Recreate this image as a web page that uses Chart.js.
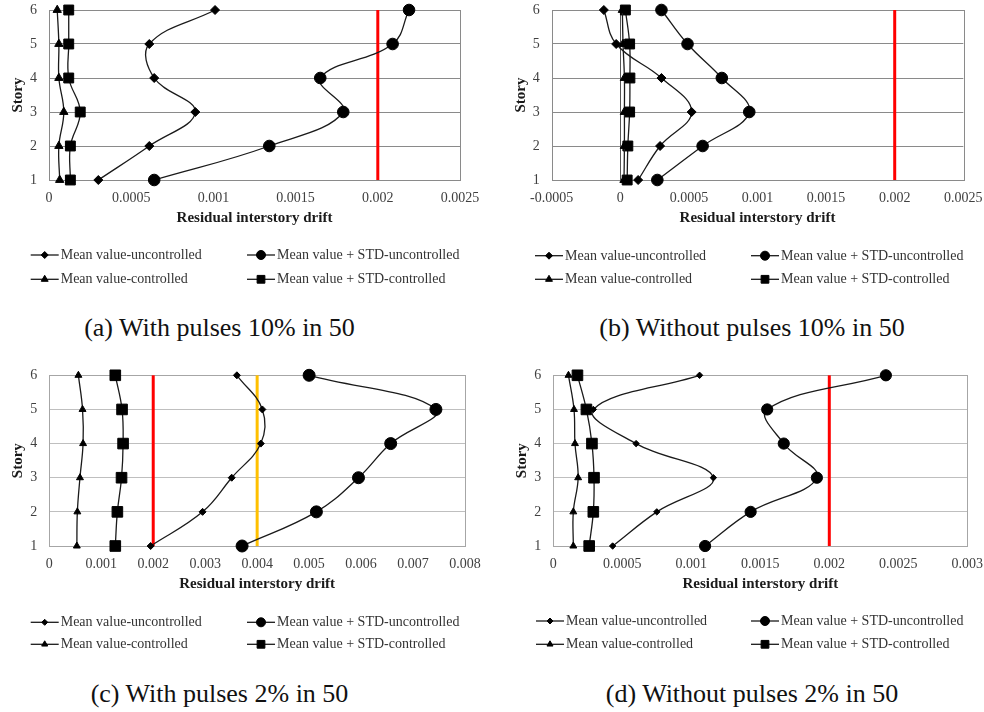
<!DOCTYPE html>
<html><head><meta charset="utf-8">
<script src="https://cdn.jsdelivr.net/npm/chart.js@4/dist/chart.umd.min.js"></script>
<style>
html,body{margin:0;padding:0;background:#fff;}
body{width:984px;height:712px;position:relative;overflow:hidden;font-family:'Liberation Serif','Times New Roman',serif;}
.pc{position:absolute;}
.pc canvas{display:block;}
.cap{position:absolute;font-size:26px;line-height:30px;color:#111;text-align:center;white-space:nowrap;width:400px;}
</style></head><body>
<div class="pc" style="left:0px;top:0px;"><canvas id="ca" width="492" height="300"></canvas></div>
<div class="pc" style="left:492px;top:0px;"><canvas id="cb" width="492" height="300"></canvas></div>
<div class="pc" style="left:0px;top:356px;"><canvas id="cc" width="492" height="310"></canvas></div>
<div class="pc" style="left:492px;top:356px;"><canvas id="cd" width="492" height="310"></canvas></div>
<div class="cap" style="left:19.5px;top:313px;">(a) With pulses 10% in 50</div>
<div class="cap" style="left:552px;top:313px;">(b) Without pulses 10% in 50</div>
<div class="cap" style="left:19.5px;top:678.5px;">(c) With pulses 2% in 50</div>
<div class="cap" style="left:552px;top:678.5px;">(d) Without pulses 2% in 50</div>
<script>
// ---------- DATA ----------
const stories = [1, 2, 3, 4, 5, 6];
const storyLabels = ['1', '2', '3', '4', '5', '6'];
const seriesNames = ['Mean value-uncontrolled', 'Mean value + STD-uncontrolled', 'Mean value-controlled', 'Mean value + STD-controlled'];
const xTitle = 'Residual interstory drift';
const yTitle = 'Story';

// (a) With pulses 10% in 50
const aMeanUnc = [0.00030, 0.00061, 0.00089, 0.00064, 0.00061, 0.00101];
const aStdUnc  = [0.00064, 0.00134, 0.00179, 0.00165, 0.00209, 0.00219];
const aMeanCon = [0.000065, 0.00006, 0.00009, 0.00006, 0.00006, 0.00005];
const aStdCon  = [0.00013, 0.00013, 0.00019, 0.00012, 0.00012, 0.00012];
const aTicks = [0, 0.0005, 0.001, 0.0015, 0.002, 0.0025];
const aTickLabels = ['0', '0.0005', '0.001', '0.0015', '0.002', '0.0025'];
const aLimits = [0.002];

// (b) Without pulses 10% in 50
const bMeanUnc = [0.00013, 0.00029, 0.00052, 0.00030, -0.00003, -0.00012];
const bStdUnc  = [0.00027, 0.00060, 0.00094, 0.00074, 0.00049, 0.00030];
const bMeanCon = [0.000027, 0.00003, 0.00003, 0.00003, 0.00002, 0.000015];
const bStdCon  = [0.00005, 0.000055, 0.000068, 0.00007, 0.000068, 0.000037];
const bTicks = [-0.0005, 0, 0.0005, 0.001, 0.0015, 0.002, 0.0025];
const bTickLabels = ['-0.0005', '0', '0.0005', '0.001', '0.0015', '0.002', '0.0025'];
const bLimits = [0.002];

// (c) With pulses 2% in 50
const cMeanUnc = [0.00195, 0.00295, 0.00351, 0.00407, 0.00410, 0.00361];
const cStdUnc  = [0.00371, 0.00514, 0.00595, 0.00657, 0.00744, 0.00500];
const cMeanCon = [0.00053, 0.00054, 0.00059, 0.00065, 0.00064, 0.00056];
const cStdCon  = [0.00127, 0.00131, 0.00139, 0.00142, 0.00140, 0.00127];
const cTicks = [0, 0.001, 0.002, 0.003, 0.004, 0.005, 0.006, 0.007, 0.008];
const cTickLabels = ['0', '0.001', '0.002', '0.003', '0.004', '0.005', '0.006', '0.007', '0.008'];
const cLimits = [0.002, 0.004];

// (d) Without pulses 2% in 50
const dMeanUnc = [0.00043, 0.00075, 0.00116, 0.00060, 0.00029, 0.00106];
const dStdUnc  = [0.00110, 0.00143, 0.00191, 0.00167, 0.00155, 0.00241];
const dMeanCon = [0.000145, 0.000145, 0.00018, 0.000157, 0.00015, 0.00011];
const dStdCon  = [0.00026, 0.00029, 0.000295, 0.00028, 0.00024, 0.000175];
const dTicks = [0, 0.0005, 0.001, 0.0015, 0.002, 0.0025, 0.003];
const dTickLabels = ['0', '0.0005', '0.001', '0.0015', '0.002', '0.0025', '0.003'];
const dLimits = [0.002];

// ---------- STYLE / LAYOUT ----------
const FONT = "'Liberation Serif', 'Times New Roman', serif";
const markerStyles = ['rectRot', 'circle', 'triangle', 'rect'];

const panels = [
  { id: 'ca', series: [aMeanUnc, aStdUnc, aMeanCon, aStdCon], ticks: aTicks, labels: aTickLabels, limits: aLimits,
    limitColors: ['#ff0000'], pad: {left: 9, right: 32, top: 10, bottom: 73},
    radius: [4.5, 5.8, 4.8, 7], grid: '#8a8a8a', frame: '#8a8a8a',
    legend: {cols: [30.7, 247], rows: [255, 279.3], radius: [3.5, 4.5, 4, 5.5]} },
  { id: 'cb', series: [bMeanUnc, bStdUnc, bMeanCon, bStdCon], ticks: bTicks, labels: bTickLabels, limits: bLimits,
    limitColors: ['#ff0000'], pad: {left: 19.7, right: 20.7, top: 10, bottom: 73},
    radius: [4.5, 5.8, 4.8, 7], grid: '#8a8a8a', frame: '#8a8a8a',
    legend: {cols: [43, 259], rows: [255.7, 279.3], radius: [3.5, 4.5, 4, 5.5]} },
  { id: 'cc', series: [cMeanUnc, cStdUnc, cMeanCon, cStdCon], ticks: cTicks, labels: cTickLabels, limits: cLimits,
    limitColors: ['#ff0000', '#ffc000'], pad: {left: 9.3, right: 27, top: 19.3, bottom: 73},
    radius: [3.5, 6, 4, 7.5], grid: '#bfbfbf', frame: '#a6a6a6',
    legend: {cols: [30.7, 247], rows: [266.3, 288.3], radius: [3, 4.5, 3.5, 5.5]} },
  { id: 'cd', series: [dMeanUnc, dStdUnc, dMeanCon, dStdCon], ticks: dTicks, labels: dTickLabels, limits: dLimits,
    limitColors: ['#ff0000'], pad: {left: 21.3, right: 16.7, top: 19.3, bottom: 73},
    radius: [3.2, 5.6, 4, 7.5], grid: '#bfbfbf', frame: '#a6a6a6',
    legend: {cols: [44, 259], rows: [265, 288.3], radius: [3, 4.5, 3.5, 5.5]} }
];

function drawMarker(ctx, style, r, x, y) {
  ctx.beginPath();
  if (style === 'rectRot') {
    ctx.moveTo(x - r, y); ctx.lineTo(x, y - r); ctx.lineTo(x + r, y); ctx.lineTo(x, y + r);
  } else if (style === 'circle') {
    ctx.arc(x, y, r, 0, Math.PI * 2);
  } else if (style === 'triangle') {
    for (let k = 0; k < 3; k++) {
      const a = k * 2 * Math.PI / 3;
      const px = x + Math.sin(a) * r, py = y - Math.cos(a) * r;
      if (k === 0) ctx.moveTo(px, py); else ctx.lineTo(px, py);
    }
  } else {
    const s = r * Math.SQRT1_2;
    ctx.rect(x - s, y - s, 2 * s, 2 * s);
  }
  ctx.closePath();
  ctx.fill();
  ctx.stroke();
}

const framePlugin = {
  id: 'frame',
  beforeDatasetsDraw(chart, args, opts) {
    const {ctx, chartArea: a} = chart;
    const x = chart.scales.x;
    ctx.save();
    ctx.lineWidth = 1;
    ctx.strokeStyle = opts.color;
    ctx.strokeRect(Math.round(a.left) + 0.5, Math.round(a.top) + 0.5, Math.round(a.right - a.left), Math.round(a.bottom - a.top));
    if (x.min < 0) {
      const px = Math.round(x.getPixelForValue(0)) + 0.5;
      ctx.strokeStyle = '#555';
      ctx.beginPath(); ctx.moveTo(px, a.top); ctx.lineTo(px, a.bottom); ctx.stroke();
    }
    ctx.restore();
  }
};

const legendPlugin = {
  id: 'seriesLegend',
  afterDraw(chart, args, opts) {
    const ctx = chart.ctx;
    ctx.save();
    chart.data.datasets.forEach(ds => {
      if (ds.legendSlot === undefined) return;
      const slot = ds.legendSlot, col = slot % 2, row = Math.floor(slot / 2);
      const x0 = opts.cols[col], y = opts.rows[row], len = 28;
      ctx.strokeStyle = '#1a1a1a'; ctx.lineWidth = 1.3;
      ctx.beginPath(); ctx.moveTo(x0, y); ctx.lineTo(x0 + len, y); ctx.stroke();
      ctx.fillStyle = '#000'; ctx.strokeStyle = '#000'; ctx.lineWidth = 1;
      drawMarker(ctx, ds.pointStyle, opts.radius[slot], x0 + len / 2, y);
      ctx.fillStyle = '#333';
      ctx.font = '14px ' + FONT;
      ctx.textBaseline = 'middle'; ctx.textAlign = 'left';
      ctx.fillText(ds.label, x0 + len + 2, y + 0.5);
    });
    ctx.restore();
  }
};

panels.forEach(p => {
  const datasets = [];
  p.series.forEach((vals, i) => {
    datasets.push({
      label: seriesNames[i], legendSlot: i,
      data: vals.map((v, k) => ({x: v, y: stories[k]})),
      borderColor: '#1a1a1a', borderWidth: 1.3, tension: 0.4,
      pointStyle: markerStyles[i], pointRadius: p.radius[i],
      pointBackgroundColor: '#000', pointBorderColor: '#000', pointBorderWidth: 1,
      fill: false, clip: false
    });
  });
  p.limits.forEach((t, j) => {
    datasets.push({
      label: 'limit', data: [{x: t, y: stories[0]}, {x: t, y: stories[stories.length - 1]}],
      borderColor: p.limitColors[j], borderWidth: 3, pointRadius: 0, tension: 0, fill: false, clip: false
    });
  });
  new Chart(document.getElementById(p.id), {
    type: 'line',
    data: {datasets},
    options: {
      responsive: false, animation: false, events: [],
      layout: {padding: p.pad, autoPadding: false},
      plugins: {legend: {display: false}, tooltip: {enabled: false},
        frame: {color: p.frame}, seriesLegend: p.legend},
      scales: {
        x: {
          type: 'linear', min: p.ticks[0], max: p.ticks[p.ticks.length - 1],
          grid: {display: false, drawTicks: false}, border: {display: false},
          afterBuildTicks: s => { s.ticks = p.ticks.map(v => ({value: v})); },
          ticks: {autoSkip: false, maxRotation: 0, padding: 10, color: '#404040',
            font: {family: FONT, size: 14}, callback: (v, i) => p.labels[i]},
          title: {display: true, text: xTitle, color: '#1a1a1a', padding: {top: 0, bottom: 0},
            font: {family: FONT, size: 15, weight: 'bold'}},
          afterFit: s => { s.height = 47; s.paddingLeft = 0; s.paddingRight = 0; }
        },
        y: {
          type: 'linear', min: stories[0], max: stories[stories.length - 1],
          grid: {color: p.grid, lineWidth: 1, drawTicks: false}, border: {display: false},
          afterBuildTicks: s => { s.ticks = stories.map(v => ({value: v})); },
          ticks: {padding: 12, color: '#404040', font: {family: FONT, size: 14},
            callback: (v, i) => storyLabels[i]},
          title: {display: true, text: yTitle, color: '#1a1a1a', padding: {top: 0, bottom: 0},
            font: {family: FONT, size: 15, weight: 'bold'}},
          afterFit: s => { s.width = 40; s.paddingTop = 0; s.paddingBottom = 0; }
        }
      }
    },
    plugins: [framePlugin, legendPlugin]
  });
});
</script>
</body></html>
